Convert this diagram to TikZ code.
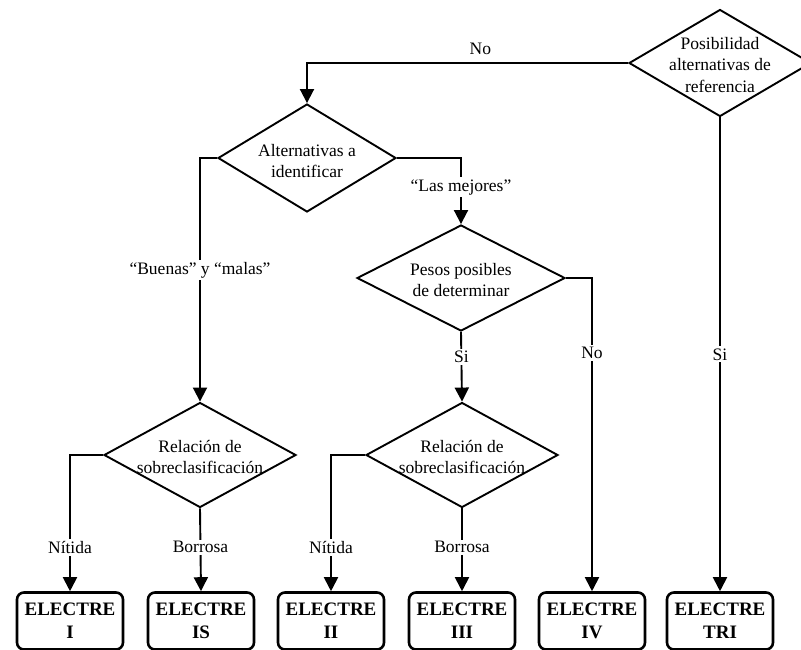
\documentclass[tikz,border=0pt]{standalone}
\usepackage{fontspec}
\setmainfont{Liberation Serif}
\usepackage{tikz}
\usetikzlibrary{positioning, arrows.meta, shapes.geometric, calc}

\begin{document}
\begin{tikzpicture}[
  x=1pt, y=-1pt,
  font=\fontsize{17.5}{21.5}\selectfont,
  line width=1.9pt,
  flow/.style={draw, -{Triangle[length=14pt, width=14pt]}},
  decision/.style={draw, diamond, inner sep=0pt, minimum width=192pt, minimum height=105pt},
  question/.style={align=center, inner sep=0pt},
  method/.style={draw, rounded corners=7pt, line width=2.6pt, minimum width=106pt,
    minimum height=57pt, inner sep=0pt, align=center,
    font=\fontsize{19}{23}\selectfont\bfseries},
  tag/.style={fill=white, inner sep=2pt}
]
\useasboundingbox (0,0) rectangle (801,649);

% decisions
\node[decision, minimum width=182pt, minimum height=107pt] (posib) at (720,63) {};
\node[question] (posibtxt) at (720,65) {Posibilidad\\alternativas de\\referencia};

\node[decision, minimum width=178pt, minimum height=108pt] (alt) at (307,158) {};
\node[question] (alttxt) at (307,161) {Alternativas a\\identificar};

\node[decision, minimum width=208pt, minimum height=106pt] (pesos) at (461,278) {};
\node[question] (pesostxt) at (461,280) {Pesos posibles\\de determinar};

\node[decision] (rel1) at (200,455) {};
\node[question] (rel1txt) at (200,457) {Relación de\\sobreclasificación};

\node[decision] (rel2) at (462,455) {};
\node[question] (rel2txt) at (462,457) {Relación de\\sobreclasificación};

% methods
\node[method] (ibox)   at (70,621)  {ELECTRE\\I};
\node[method] (isbox)  at (201,621) {ELECTRE\\IS};
\node[method] (iibox)  at (331,621) {ELECTRE\\II};
\node[method] (iiibox) at (462,621) {ELECTRE\\III};
\node[method] (ivbox)  at (592,621) {ELECTRE\\IV};
\node[method] (tribox) at (720,621) {ELECTRE\\TRI};

% connectors
\draw[flow] (posib.west) -| (alt.north) node[pos=0.23, above=4pt] (nolbl) {No};
\draw[flow] (posib.south) -- (tribox.north) node[tag, pos=0.5] (silbl) {Si};

\draw[flow] (alt.west) -| (rel1.north) node[tag, pos=0.73] (buenas) {``Buenas'' y ``malas''};
\draw[flow] (alt.east) -| (pesos.north) node[tag, pos=0.72] (mejores) {``Las mejores''};

\draw[flow] (pesos.south) -- (rel2.north) node[tag, pos=0.36] (pesossi) {Si};
\draw[flow] (pesos.east) -| (ivbox.north) node[tag, pos=0.62] (pesosno) {No};

\draw[flow] (rel1.west) -| (ibox.north) node[tag, pos=0.84] (nit1) {Nítida};
\draw[flow] (rel1.south) -- (isbox.north) node[tag, pos=0.47] (bor1) {Borrosa};
\draw[flow] (rel2.west) -| (iibox.north) node[tag, pos=0.84] (nit2) {Nítida};
\draw[flow] (rel2.south) -- (iiibox.north) node[tag, pos=0.47] (bor2) {Borrosa};

\end{tikzpicture}
\end{document}
